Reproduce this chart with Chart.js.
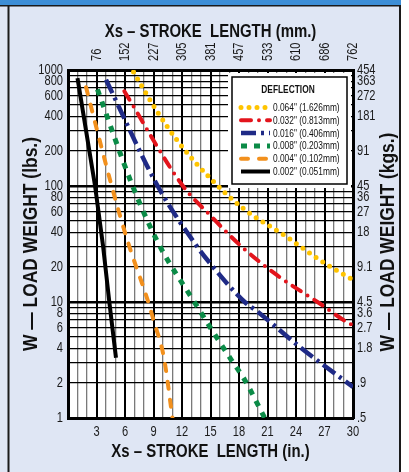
<!DOCTYPE html>
<html><head><meta charset="utf-8">
<script src="https://cdn.jsdelivr.net/npm/chart.js@4.4.1/dist/chart.umd.min.js"></script>
<style>html,body{margin:0;padding:0;background:#fff;}canvas{display:block;}</style>
</head><body>
<canvas id="c" width="409" height="472"></canvas>
<script>
// ---- data (inches vs lbs) ----
const inchTicks = [3, 6, 9, 12, 15, 18, 21, 24, 27, 30];
const mmLabels = ['76', '152', '227', '305', '381', '457', '533', '610', '686', '762'];
const lbsLabelValues = [1000, 800, 600, 400, 200, 100, 80, 60, 40, 20, 10, 8, 6, 4, 2, 1];
const lbsLabels = ['1000', '800', '600', '400', '200', '100', '80', '60', '40', '20', '10', '8', '6', '4', '2', '1'];
const kgLabels = ['454', '363', '272', '181', '91', '45', '36', '27', '18', '9.1', '4.5', '3.6', '2.7', '1.8', '.9', '.5'];
const seriesNames = ['0.064" (1.626mm)', '0.032" (0.813mm)', '0.016" (0.406mm)', '0.008" (0.203mm)', '0.004" (0.102mm)', '0.002" (0.051mm)'];

const d064X = [6.9, 9.26, 11.7, 14.95, 18.45, 23.0, 26.5, 30];
const d064Y = [960, 455, 235, 117, 64, 36.5, 23, 15.5];
const d032X = [5.93, 12.1, 15.05, 18.28, 21.97, 26.18, 29.5, 30];
const d032Y = [655, 100, 55, 30, 17.1, 10.1, 6.6, 6.3];
const d016X = [4.0, 9.44, 13.47, 14.95, 18.6, 20.0, 24.4, 30];
const d016Y = [825, 100, 31, 21.6, 10, 8.2, 4.1, 1.85];
const d008X = [3.1, 6.8, 9.6, 13.3, 15.05, 17.2, 18.6, 20.7];
const d008Y = [680, 100, 31, 10, 5.9, 3.16, 2.13, 1];
const d004X = [1.9, 4.6, 6.3, 8.45, 9.0, 10.1, 11.0];
const d004Y = [710, 100, 33, 10, 7, 3.3, 1];
const d002X = [1.0, 2.85, 3.7, 4.35, 5.05];
const d002Y = [850, 100, 30, 10, 3.3];

const FONT = "'Liberation Sans', Arial, sans-serif";

// condensed look: squeeze every text drawn on this canvas along its own baseline
const canvas = document.getElementById('c');
const c2d = canvas.getContext('2d');
const origFill = c2d.fillText.bind(c2d);
c2d.fillText = function (text, x, y) {
  const f = this.font;
  let s = 0.74;
  if (/bold/.test(f)) s = 0.83;
  if (/ 11px/.test(f) || /^11px/.test(f)) s = 0.76;
  this.save();
  this.translate(x, y);
  this.scale(s, 1);
  origFill(text, 0, 0);
  this.restore();
};

function pts(xs, ys) { return xs.map((x, i) => ({ x: x, y: ys[i] })); }

const styles = [
  { color: '#ffc400', width: 5, dash: [0, 8], cap: 'round' },
  { color: '#e3141c', width: 4, dash: [10, 8, 0, 8], cap: 'round' },
  { color: '#1f2a86', width: 4.5, dash: [15, 5, 3, 5], cap: 'butt' },
  { color: '#0b8b47', width: 5, dash: [6, 7], cap: 'butt' },
  { color: '#f2901d', width: 4, dash: [7, 11], cap: 'round' },
  { color: '#000000', width: 4, dash: [], cap: 'butt' }
];
const seriesData = [pts(d064X, d064Y), pts(d032X, d032Y), pts(d016X, d016Y), pts(d008X, d008Y), pts(d004X, d004Y), pts(d002X, d002Y)];

const datasets = seriesData.map((d, i) => ({
  label: seriesNames[i],
  data: d,
  borderColor: styles[i].color,
  borderWidth: styles[i].width,
  borderDash: styles[i].dash,
  borderCapStyle: styles[i].cap,
  pointRadius: 0,
  fill: false,
  tension: 0,
  cubicInterpolationMode: i === 5 ? 'default' : 'monotone'
}));

// full log grid 1..1000
const logGrid = [];
for (let k = 0; k < 3; k++) for (let m = 1; m <= 9; m++) logGrid.push(m * Math.pow(10, k));
logGrid.push(1000);

function isDecade(v) { return [1, 10, 100, 1000].indexOf(v) >= 0; }

const bgPlugin = {
  id: 'bg',
  beforeDraw(chart) {
    const ctx = chart.ctx, W = chart.width, H = chart.height, ca = chart.chartArea;
    ctx.save();
    ctx.fillStyle = '#ffffff';
    ctx.fillRect(0, 0, W, H);
    ctx.fillStyle = '#dfe6f4';
    ctx.fillRect(0, 0, 401, H);
    ctx.fillStyle = '#3d8ed6';
    ctx.fillRect(0, 0, 401, 5);
    ctx.fillStyle = '#1a1a1a';
    ctx.fillRect(0, 5, 401, 1.5);
    ctx.fillRect(7.5, 5, 2, H - 5);
    ctx.fillRect(399, 5, 2, H - 5);
    ctx.fillStyle = '#ffffff';
    ctx.fillRect(ca.left, ca.top, ca.right - ca.left, ca.bottom - ca.top);
    ctx.restore();
  },
  afterDraw(chart) {
    const ctx = chart.ctx, ca = chart.chartArea;
    ctx.save();
    ctx.translate(ca.right + 35, (ca.top + ca.bottom) / 2 - 2);
    ctx.rotate(-Math.PI / 2);
    ctx.fillStyle = '#111';
    ctx.font = "bold 21px " + FONT;
    ctx.textAlign = 'center';
    ctx.textBaseline = 'middle';
    ctx.fillText('W — LOAD WEIGHT (kgs.)', 0, 0);
    ctx.restore();
  }
};

const legendPlugin = {
  id: 'deflLegend',
  afterDatasetsDraw(chart) {
    const ctx = chart.ctx, ca = chart.chartArea;
    const x0 = ca.left + 164, y0 = ca.top + 7, w = 115, h = 107;
    ctx.save();
    ctx.fillStyle = '#fff';
    ctx.fillRect(x0 - 4, y0 - 4, w + 8, h + 8);
    ctx.strokeStyle = '#000';
    ctx.lineWidth = 1.5;
    ctx.strokeRect(x0, y0, w, h);
    ctx.fillStyle = '#111';
    ctx.font = "bold 11px " + FONT;
    ctx.textAlign = 'center';
    ctx.textBaseline = 'middle';
    ctx.fillText('DEFLECTION', x0 + 56, y0 + 12.5);
    ctx.font = "11px " + FONT;
    ctx.textAlign = 'left';
    for (let i = 0; i < 6; i++) {
      const y = y0 + 30.5 + i * 12.8;
      const s = styles[i];
      ctx.save();
      ctx.strokeStyle = s.color;
      ctx.lineWidth = s.width;
      ctx.lineCap = s.cap;
      ctx.setLineDash(s.dash);
      ctx.beginPath();
      ctx.moveTo(x0 + 9, y);
      ctx.lineTo(x0 + 38, y);
      ctx.stroke();
      ctx.restore();
      ctx.fillStyle = '#111';
      ctx.fillText(seriesNames[i], x0 + 41, y + 0.5);
    }
    ctx.restore();
  }
};

const tickFont = { family: FONT, size: 15 };
const titleFont = { family: FONT, size: 18, weight: 'bold' };
const sideTitleFont = { family: FONT, size: 21, weight: 'bold' };

new Chart(canvas, {
  type: 'line',
  data: { datasets: datasets },
  options: {
    responsive: false,
    animation: false,
    devicePixelRatio: 1,
    layout: { padding: 0 },
    plugins: { legend: { display: false }, tooltip: { enabled: false } },
    scales: {
      x: {
        type: 'linear', position: 'bottom', min: 0, max: 30,
        afterBuildTicks: (s) => { const t = []; for (let v = 0; v <= 30; v++) t.push({ value: v }); s.ticks = t; },
        afterFit: (s) => { s.height = 54; },
        ticks: {
          autoSkip: false, maxRotation: 0, minRotation: 0, padding: 5, color: '#1a1a1a', font: tickFont,
          callback: (v) => (v > 0 && v % 3 === 0) ? String(v) : ''
        },
        grid: {
          drawTicks: false,
          color: (c) => (c.tick && c.tick.value % 3 === 0) ? '#000' : '#7a7a7a',
          lineWidth: (c) => (c.tick && c.tick.value % 3 === 0) ? 2 : 1.3
        },
        border: { display: true, color: '#000', width: 3 },
        title: { display: true, text: 'Xs – STROKE  LENGTH (in.)', color: '#111', font: titleFont, padding: { top: 0, bottom: 9 } }
      },
      x2: {
        type: 'linear', position: 'top', min: 0, max: 30,
        afterBuildTicks: (s) => { s.ticks = inchTicks.map(v => ({ value: v })); },
        afterFit: (s) => { s.height = 70; },
        ticks: {
          autoSkip: false, maxRotation: 90, minRotation: 90, padding: 9, labelOffset: 18, color: '#1a1a1a', font: tickFont,
          callback: (v, i) => mmLabels[i]
        },
        grid: { drawOnChartArea: false, drawTicks: false },
        border: { display: true, color: '#000', width: 3 },
        title: { display: true, text: 'Xs – STROKE  LENGTH (mm.)', color: '#111', font: titleFont, padding: { top: 21, bottom: 0 } }
      },
      y: {
        type: 'logarithmic', position: 'left', min: 1, max: 1000,
        afterBuildTicks: (s) => { s.ticks = logGrid.map(v => ({ value: v })); },
        afterFit: (s) => { s.width = 68; },
        ticks: {
          autoSkip: false, padding: 5, color: '#1a1a1a', font: tickFont,
          callback: (v) => { const i = lbsLabelValues.indexOf(v); return i >= 0 ? lbsLabels[i] : ''; }
        },
        grid: {
          drawTicks: false, color: '#000',
          lineWidth: (c) => (c.tick && isDecade(c.tick.value)) ? 2.5 : 1.3
        },
        border: { display: true, color: '#000', width: 3 },
        title: { display: true, text: 'W — LOAD WEIGHT (lbs.)', color: '#111', font: sideTitleFont, padding: { top: 19, bottom: 0 } }
      },
      y2: {
        type: 'logarithmic', position: 'right', min: 1, max: 1000,
        afterBuildTicks: (s) => { s.ticks = logGrid.map(v => ({ value: v })); },
        afterFit: (s) => { s.width = 56; },
        ticks: {
          autoSkip: false, padding: 4, color: '#1a1a1a', font: tickFont,
          callback: (v) => { const i = lbsLabelValues.indexOf(v); return i >= 0 ? kgLabels[i] : ''; }
        },
        grid: { drawOnChartArea: false, drawTicks: false },
        border: { display: true, color: '#000', width: 3 }
      }
    }
  },
  plugins: [bgPlugin, legendPlugin]
});
</script>
</body></html>
